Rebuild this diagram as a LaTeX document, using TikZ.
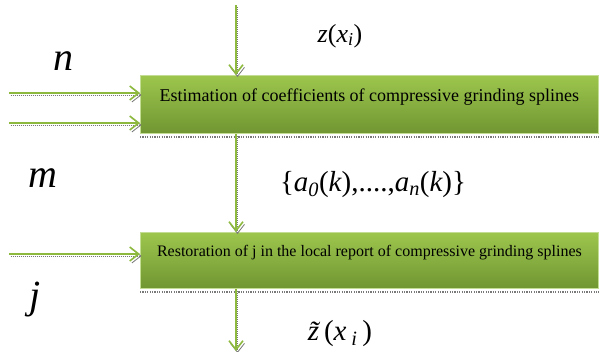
\documentclass[tikz,border=0pt]{standalone}
\usepackage{fontspec}
\setmainfont{Liberation Serif}
\usetikzlibrary{arrows.meta,shadings}
\definecolor{leaf}{RGB}{141,186,62}
\definecolor{leaftop}{RGB}{157,198,77}
\definecolor{leafbot}{RGB}{112,150,50}
\definecolor{shade}{RGB}{120,120,120}
\tikzset{
  flowbox/.style={draw=leaftop!60!white, line width=0.8pt, top color=leaftop, bottom color=leafbot,
    minimum width=458pt, minimum height=58pt, inner sep=0pt, anchor=north west},
  flowarrow/.style={draw=leaf, line width=1.6pt, -{Straight Barb[length=9pt,width=14pt,line width=1.6pt]},
    preaction={draw=shade, line width=0.8pt, dash pattern=on 1pt off 1pt, transform canvas={shift={(1.5pt,-2pt)}},
      -{Straight Barb[length=9pt,width=14pt,line width=0.8pt]}}},
  boxshadow/.style={draw=shade, line width=2.4pt, dash pattern=on 1.2pt off 1.2pt},
  lbl/.style={inner sep=0pt}
}
\begin{document}
\begin{tikzpicture}[x=1pt,y=-1pt]
\useasboundingbox (0,0) rectangle (601,351);

% processing blocks
\node[flowbox] (est) at (140,75) {};
\node[font=\fontsize{18}{20}\selectfont] (esttext) at ([yshift=7pt]est.center) {Estimation of coefficients of compressive grinding splines};
\node[flowbox, minimum height=56pt] (rest) at (140,232) {};
\node[font=\fontsize{16}{18}\selectfont] (resttext) at ([yshift=8pt]rest.center) {Restoration of j in the local report of compressive grinding splines};

% hatched shadows under the blocks
\draw[boxshadow] ([yshift=-3pt]est.south west) -- ([yshift=-3pt]est.south east);
\draw[boxshadow] ([yshift=-3pt]rest.south west) -- ([yshift=-3pt]rest.south east);

% connector ends
\coordinate (top) at (236,5);
\coordinate (nin) at (9,93);
\coordinate (min) at (9,123);
\coordinate (jin) at (9,254);
\coordinate (bot) at (236,351);

\draw[flowarrow] (top) -- (top |- est.north);
\draw[flowarrow] (nin) -- (nin -| est.west);
\draw[flowarrow] (min) -- (min -| est.west);
\draw[flowarrow] (top |- est.south) -- (top |- rest.north);
\draw[flowarrow] (jin) -- (jin -| rest.west);
\draw[flowarrow] (top |- rest.south) -- (bot);

% labels
\node[lbl, font=\fontsize{40}{42}\selectfont\itshape] (ln) at (63,61) {n};
\node[lbl, font=\fontsize{40}{42}\selectfont\itshape] (lm) at (43,178) {m};
\node[lbl, font=\fontsize{40}{42}\selectfont\itshape] (lj) at (35,300) {j};
\node[lbl, font=\fontsize{26}{28}\selectfont] (lz) at (340,36) {\itshape z\upshape(\itshape x\textsubscript{i}\upshape)};
\node[lbl, font=\fontsize{29}{31}\selectfont] (la) at (373,185) {\upshape\{\itshape a\textsubscript{0}\upshape(\itshape k\upshape),....,\itshape a\textsubscript{n}\upshape(\itshape k\upshape)\}};
\node[lbl, font=\fontsize{29}{31}\selectfont] (lzt) at (340,334) {\itshape z̃\,\upshape(\itshape x\,\textsubscript{i}\upshape\,)};
\end{tikzpicture}
\end{document}
